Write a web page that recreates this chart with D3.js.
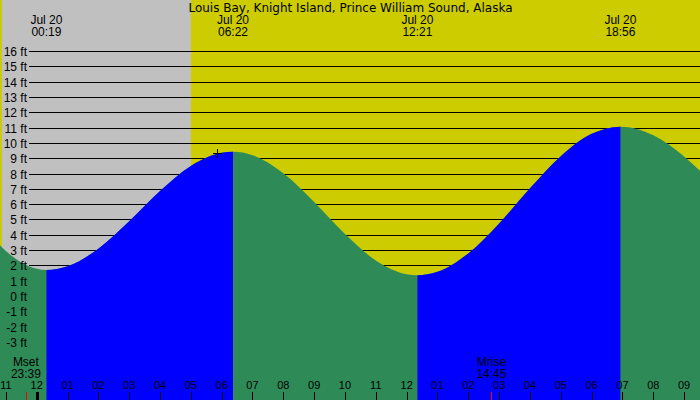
<!DOCTYPE html>
<html>
<head>
<meta charset="utf-8">
<script src="https://cdn.jsdelivr.net/npm/d3@7"></script>
<style>
  body { margin: 0; padding: 0; overflow: hidden; }
  text { font-family: "Liberation Sans", Arial, sans-serif; fill: #000; }
</style>
</head>
<body>
<div id="chart"></div>
<script>

// tide curve, hours from Jul 20 00:00 and height in feet
var tideHours = [-1.2, -1, -0.5, 0, 0.317, 1, 2, 3, 4, 5, 6, 6.367, 7, 8, 9, 10, 11, 12, 12.35, 13, 14, 15, 16, 17, 18, 18.933, 20, 21, 21.6];
var tideFeet = [3.33, 2.94, 2.19, 1.78, 1.70, 1.94, 3.09, 4.88, 6.85, 8.49, 9.35, 9.42, 9.20, 8.02, 6.14, 4.05, 2.32, 1.42, 1.35, 1.58, 2.78, 4.74, 7.03, 9.13, 10.59, 11.06, 10.50, 9.11, 8.01];

// high / low tides
var extremeHours = [0.317, 6.367, 12.35, 18.933];
var extremeDates = ["Jul 20", "Jul 20", "Jul 20", "Jul 20"];
var extremeTimes = ["00:19", "06:22", "12:21", "18:56"];
var extremeTypes = ["L", "H", "L", "H"];

// sun (night between sunset and sunrise)
var sunsetHour = -1.13;
var sunriseHour = 5.0;

// moon
var moonHours = [-0.35, 14.75];
var moonNames = ["Mset", "Mrise"];
var moonTimes = ["23:39", "14:45"];

// hour ticks along the bottom
var tickHours = d3.range(-1, 22);
var tickLabels = ["11", "12", "01", "02", "03", "04", "05", "06", "07", "08", "09", "10",
                  "11", "12", "01", "02", "03", "04", "05", "06", "07", "08", "09"];

// feet grid
var feetTicks = d3.range(-3, 17);

// marker
var markHour = 5.86;
var markFeet = 9.32;

var title = "Louis Bay, Knight Island, Prince William Sound, Alaska";

var width = 700, height = 400;

var svg = d3.select("#chart")
  .append("svg")
  .attr("width", width)
  .attr("height", height);

var x = d3.scaleLinear()
  .domain([-1.19, 21.515])
  .range([0, width]);

var y = d3.scaleLinear()
  .domain([0, 16])
  .range([296, 51]);

// day / night background
svg.append("rect")
  .attr("x", 0).attr("y", 0)
  .attr("width", width).attr("height", height)
  .attr("fill", "#cccc00");

svg.append("rect")
  .attr("x", x(sunsetHour)).attr("y", 0)
  .attr("width", x(sunriseHour) - x(sunsetHour)).attr("height", height)
  .attr("fill", "#c0c0c0");

// grid lines
svg.append("g")
  .selectAll("line")
  .data(feetTicks)
  .enter()
  .append("line")
  .attr("x1", 29)
  .attr("x2", width)
  .attr("y1", function(d) { return Math.round(y(d)) + 0.5; })
  .attr("y2", function(d) { return Math.round(y(d)) + 0.5; })
  .attr("stroke", "#000")
  .attr("stroke-width", 1);

// water
var tide = tideHours.map(function(h, i) { return {h: h, ft: tideFeet[i]}; });

var area = d3.area()
  .x(function(d) { return x(d.h); })
  .y0(height)
  .y1(function(d) { return y(d.ft); })
  .curve(d3.curveMonotoneX);

svg.append("path")
  .datum(tide)
  .attr("d", area)
  .attr("fill", "#2e8b57");

// rising tide in blue: from each low to the next high
var rising = [];
extremeTypes.forEach(function(t, i) {
  if (t == "L" && i + 1 < extremeHours.length) rising.push([extremeHours[i], extremeHours[i + 1]]);
});

var clip = svg.append("defs").append("clipPath").attr("id", "rise");
clip.selectAll("rect")
  .data(rising)
  .enter()
  .append("rect")
  .attr("x", function(d) { return x(d[0]); })
  .attr("y", 0)
  .attr("width", function(d) { return x(d[1]) - x(d[0]); })
  .attr("height", height);

svg.append("path")
  .datum(tide)
  .attr("d", area)
  .attr("fill", "#0000ff")
  .attr("clip-path", "url(#rise)");

// feet labels
svg.append("g")
  .selectAll("text")
  .data(feetTicks)
  .enter()
  .append("text")
  .attr("x", 27)
  .attr("y", function(d) { return Math.round(y(d)) + 5; })
  .attr("text-anchor", "end")
  .style("font-size", "12px")
  .text(function(d) { return d + " ft"; });

// title
svg.append("text")
  .attr("x", 350.5)
  .attr("y", 12)
  .attr("text-anchor", "middle")
  .style("font-family", "'DejaVu Sans', sans-serif")
  .style("font-size", "12px")
  .text(title);

// high / low labels
var ext = svg.append("g")
  .selectAll("g")
  .data(extremeHours)
  .enter()
  .append("g");

ext.append("text")
  .attr("x", function(d) { return x(d); })
  .attr("y", 24)
  .attr("text-anchor", "middle")
  .style("font-size", "12px")
  .text(function(d, i) { return extremeDates[i]; });

ext.append("text")
  .attr("x", function(d) { return x(d); })
  .attr("y", 35.5)
  .attr("text-anchor", "middle")
  .style("font-size", "12px")
  .text(function(d, i) { return extremeTimes[i]; });

// hour ticks
svg.append("g")
  .selectAll("line")
  .data(tickHours)
  .enter()
  .append("line")
  .attr("x1", function(d) { return Math.round(x(d)) + 0.5; })
  .attr("x2", function(d) { return Math.round(x(d)) + 0.5; })
  .attr("y1", 392)
  .attr("y2", height)
  .attr("stroke", "#000")
  .attr("stroke-width", function(d) { return d == 0 ? 3 : 1; });

svg.append("g")
  .selectAll("text")
  .data(tickHours)
  .enter()
  .append("text")
  .attr("x", function(d) { return x(d); })
  .attr("y", 389)
  .attr("text-anchor", "middle")
  .style("font-size", "11px")
  .text(function(d, i) { return tickLabels[i]; });

// moon rise / set
var moon = svg.append("g")
  .selectAll("g")
  .data(moonHours)
  .enter()
  .append("g");

moon.append("line")
  .attr("x1", function(d) { return Math.round(x(d)) + 0.5; })
  .attr("x2", function(d) { return Math.round(x(d)) + 0.5; })
  .attr("y1", 392)
  .attr("y2", height)
  .attr("stroke", "#ff0000");

moon.append("text")
  .attr("x", function(d) { return x(d); })
  .attr("y", 366)
  .attr("text-anchor", "middle")
  .style("font-size", "12px")
  .text(function(d, i) { return moonNames[i]; });

moon.append("text")
  .attr("x", function(d) { return x(d); })
  .attr("y", 377.5)
  .attr("text-anchor", "middle")
  .style("font-size", "12px")
  .text(function(d, i) { return moonTimes[i]; });

// cross marker
var mx = Math.round(x(markHour)) + 0.5, my = Math.round(y(markFeet)) + 0.5;
svg.append("path")
  .attr("d", "M" + (mx - 4.5) + "," + my + "H" + (mx + 4.5) + "M" + mx + "," + (my - 4.5) + "V" + (my + 4.5))
  .attr("stroke", "#000")
  .attr("stroke-width", 1);

</script>
</body>
</html>
